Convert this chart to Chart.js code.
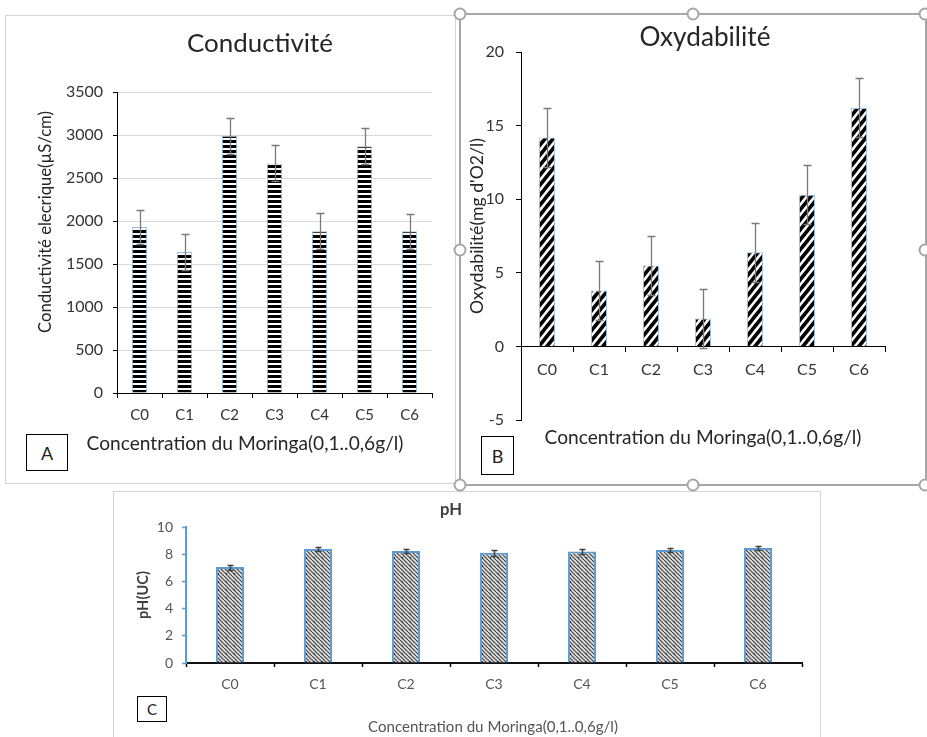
<!DOCTYPE html>
<html><head><meta charset="utf-8">
<script src="https://cdn.jsdelivr.net/npm/chart.js@4/dist/chart.umd.min.js"></script>
<style>
body{margin:0;width:927px;height:737px;position:relative;background:#fff;overflow:hidden;font-family:Lato,sans-serif;}
.layer{position:absolute;left:0;top:0;width:927px;height:737px;}
.frame{position:absolute;box-sizing:border-box;}
.txt{position:absolute;white-space:nowrap;line-height:1;transform:translate(-50%,-50%);}
.rot{transform:translate(-50%,-50%) rotate(-90deg);}
.lbl{position:absolute;box-sizing:border-box;border:1px solid #000;display:flex;align-items:center;justify-content:center;color:#222;background:#fff;}
.handle{position:absolute;width:13px;height:13px;border:2px solid #a6a6a6;border-radius:50%;background:#fff;box-sizing:border-box;transform:translate(-50%,-50%);}
</style></head>
<body>
<div class="frame" style="left:5px;top:15px;width:451px;height:469px;border:1px solid #d4d4d4;"></div>
<div class="frame" style="left:113px;top:491px;width:708px;height:260px;border:1px solid #d4d4d4;"></div>
<div class="frame" style="left:459px;top:13px;width:468px;height:473px;border:2px solid #a6a6a6;"></div>
<canvas id="cA" class="layer" width="927" height="737"></canvas>
<canvas id="cB" class="layer" width="927" height="737"></canvas>
<canvas id="cC" class="layer" width="927" height="737"></canvas>
<div id="texts" class="layer"></div>
<script>
// ---- data ----
const categories = ['C0','C1','C2','C3','C4','C5','C6'];
const conductivity = [1930, 1640, 2990, 2670, 1880, 2870, 1880];
const conductivityErr = [200, 210, 210, 210, 210, 210, 200];
const oxidability = [14.2, 3.8, 5.5, 1.9, 6.4, 10.3, 16.2];
const oxidabilityErr = [2, 2, 2, 2, 2, 2, 2];
const ph = [7.05, 8.38, 8.24, 8.1, 8.2, 8.3, 8.45];
const phErr = [0.18, 0.18, 0.15, 0.2, 0.15, 0.15, 0.15];
const ticksA = [0, 500, 1000, 1500, 2000, 2500, 3000, 3500];
const ticksB = [-5, 0, 5, 10, 15, 20];
const ticksC = [0, 2, 4, 6, 8, 10];

// ---- patterns ----
function makePattern(w, h, draw) {
  const c = document.createElement('canvas'); c.width = w; c.height = h;
  const g = c.getContext('2d'); draw(g, w, h);
  return g.createPattern(c, 'repeat');
}
const patA = makePattern(5, 5, (g) => { g.fillStyle = '#fff'; g.fillRect(0,0,5,5); g.fillStyle = '#000'; g.fillRect(0,0,5,3); });
const patB = makePattern(8, 10, (g, w, h) => {
  g.fillStyle = '#fff'; g.fillRect(0,0,w,h);
  g.strokeStyle = '#000'; g.lineWidth = 3.6; g.lineCap = 'square';
  for (const k of [-w, 0, w]) { g.beginPath(); g.moveTo(k, h); g.lineTo(k + w, 0); g.stroke(); }
});
const patC = makePattern(8, 8, (g, w, h) => {
  g.fillStyle = '#dedede'; g.fillRect(0,0,w,h);
  g.strokeStyle = '#444'; g.lineWidth = 1.15;
  for (let k = -8; k <= 8; k += 4) { g.beginPath(); g.moveTo(k, 0); g.lineTo(k + 8, 8); g.stroke(); }
  g.fillStyle = '#111'; g.fillRect(2, 5, 1, 1);
});

// ---- error bar plugin (uses the chart's own y scale) ----
const errorBars = {
  id: 'errorBars',
  afterDatasetsDraw(chart, args, opts) {
    const errs = opts.errors; if (!errs) return;
    const ds = chart.data.datasets[0];
    const meta = chart.getDatasetMeta(0);
    const y = chart.scales.y, ctx = chart.ctx;
    ctx.save();
    ctx.strokeStyle = opts.color; ctx.lineWidth = opts.width;
    meta.data.forEach((bar, i) => {
      const v = ds.data[i], e = errs[i];
      const yt = Math.round(y.getPixelForValue(v + e)) + 0.5;
      const yb = Math.round(y.getPixelForValue(v - e)) + 0.5;
      const x = Math.round(bar.x) + 0.5;
      ctx.beginPath();
      ctx.moveTo(x, yt); ctx.lineTo(x, yb);
      ctx.moveTo(x - opts.cap, yt); ctx.lineTo(x + opts.cap, yt);
      ctx.moveTo(x - opts.cap, yb); ctx.lineTo(x + opts.cap, yb);
      ctx.stroke();
    });
    ctx.restore();
  }
};

const W = 927, H = 737;
function base(padding) {
  return { responsive: false, animation: false, events: [], layout: { padding },
    plugins: { legend: { display: false }, tooltip: { enabled: false }, title: { display: false } } };
}
const fontAB = 'Lato';
const plain = v => String(v);

// ---- Chart A ----
const optA = base({ left: 0, top: 92, right: W - 432, bottom: 0 });
optA.plugins.errorBars = { errors: conductivityErr, color: '#7a7a7a', width: 1.3, cap: 4 };
optA.scales = {
  x: { grid: { drawOnChartArea: false, drawTicks: true, tickLength: 5, tickColor: '#000', offset: true },
       border: { color: '#000', width: 1 },
       ticks: { font: { family: fontAB, size: 15 }, color: '#333', padding: 8 },
       afterFit: s => { s.height = H - 393; } },
  y: { min: 0, max: 3500,
       afterBuildTicks: s => { s.ticks = ticksA.map(v => ({ value: v })); },
       grid: { color: c => (c.tick && c.tick.value === 0) ? 'rgba(0,0,0,0)' : '#d9d9d9', tickLength: 4, tickColor: '#000' },
       border: { color: '#000', width: 1 },
       ticks: { font: { family: fontAB, size: 16 }, color: '#333', padding: 10, callback: plain },
       afterFit: s => { s.width = 117; } }
};
new Chart(document.getElementById('cA'), {
  type: 'bar',
  data: { labels: categories, datasets: [{ data: conductivity, backgroundColor: patA, borderColor: '#9fbcd8', borderWidth: 1, barPercentage: 0.34, categoryPercentage: 1 }] },
  options: optA, plugins: [errorBars]
});

// ---- Chart B ----
const optB = base({ left: 0, top: 52, right: W - 885, bottom: H - 420 });
optB.plugins.errorBars = { errors: oxidabilityErr, color: '#7a7a7a', width: 1.3, cap: 4 };
optB.scales = {
  x: { position: { y: 0 },
       grid: { drawOnChartArea: false, drawTicks: true, tickLength: 5, tickColor: '#000', offset: true },
       border: { color: '#000', width: 1 },
       ticks: { font: { family: fontAB, size: 16 }, color: '#333', padding: 9 } },
  y: { min: -5, max: 20,
       afterBuildTicks: s => { s.ticks = ticksB.map(v => ({ value: v })); },
       grid: { drawOnChartArea: false, tickLength: 5, tickColor: '#000' },
       border: { color: '#000', width: 1 },
       ticks: { font: { family: fontAB, size: 16 }, color: '#333', padding: 12, callback: plain },
       afterFit: s => { s.width = 521; } }
};
new Chart(document.getElementById('cB'), {
  type: 'bar',
  data: { labels: categories, datasets: [{ data: oxidability, backgroundColor: patB, borderColor: '#9dc3e6', borderWidth: 1, barPercentage: 0.31, categoryPercentage: 1 }] },
  options: optB, plugins: [errorBars]
});

// ---- Chart C ----
const optC = base({ left: 0, top: 527, right: W - 802, bottom: 0 });
optC.plugins.errorBars = { errors: phErr, color: '#404040', width: 1.5, cap: 3 };
optC.scales = {
  x: { grid: { drawOnChartArea: false, drawTicks: true, tickLength: 4, tickColor: '#000', tickWidth: 1.5, offset: true },
       border: { color: '#111', width: 2 },
       ticks: { font: { family: fontAB, size: 14 }, color: '#555', padding: 9 },
       afterFit: s => { s.height = H - 663; } },
  y: { min: 0, max: 10,
       afterBuildTicks: s => { s.ticks = ticksC.map(v => ({ value: v })); },
       grid: { drawOnChartArea: false, tickLength: 4, tickColor: '#5b9bd5', tickWidth: 1.5 },
       border: { color: '#5b9bd5', width: 2 },
       ticks: { font: { family: fontAB, size: 14 }, color: '#555', padding: 9, callback: plain },
       afterFit: s => { s.width = 186; } }
};
new Chart(document.getElementById('cC'), {
  type: 'bar',
  data: { labels: categories, datasets: [{ data: ph, backgroundColor: patC, borderColor: '#5b9bd5', borderWidth: 2, barPercentage: 0.32, categoryPercentage: 1 }] },
  options: optC, plugins: [errorBars]
});

// ---- texts (titles, axis titles, panel letters) ----
const meas = document.createElement('canvas').getContext('2d');
const box = document.getElementById('texts');
function place(text, cx, cy, len, o) {
  o = o || {};
  const weight = o.bold ? 'bold ' : '';
  meas.font = weight + '100px Lato';
  const size = 100 * len / meas.measureText(text).width;
  const d = document.createElement('div');
  d.className = 'txt' + (o.rot ? ' rot' : '');
  d.textContent = text;
  d.style.left = cx + 'px'; d.style.top = cy + 'px';
  d.style.fontSize = size.toFixed(2) + 'px';
  d.style.fontWeight = o.bold ? 'bold' : 'normal';
  d.style.color = o.color || '#262626';
  box.appendChild(d);
}
place('Conductivité', 260, 43, 146);
place('Conductivité elecrique(µS/cm)', 45, 222, 222, { rot: true });
place('Concentration du Moringa(0,1..0,6g/l)', 245, 443, 317);
place('Oxydabilité', 705, 36, 131);
place("Oxydabilité(mg d'O2/l)", 477, 226, 176, { rot: true });
place('Concentration du Moringa(0,1..0,6g/l)', 703, 437, 317);
place('pH', 451, 509, 22, { bold: true, color: '#404040' });
place('pH(UC)', 143, 595, 48, { bold: true, rot: true, color: '#404040' });
place('Concentration du Moringa(0,1..0,6g/l)', 493, 727, 250, { color: '#555' });

function label(t, x, y, w, h, fs) {
  const d = document.createElement('div'); d.className = 'lbl'; d.textContent = t;
  Object.assign(d.style, { left: x + 'px', top: y + 'px', width: w + 'px', height: h + 'px', fontSize: fs + 'px' });
  box.appendChild(d);
}
label('A', 26, 434, 42, 37, 18);
label('B', 481, 436, 33, 39, 18);
label('C', 137, 696, 30, 26, 15);

[[460,14],[693,14],[925,14],[460,250],[925,250],[460,485],[693,485],[925,485]].forEach(([x,y]) => {
  const h = document.createElement('div'); h.className = 'handle';
  h.style.left = x + 'px'; h.style.top = y + 'px'; box.appendChild(h);
});
</script>
</body></html>
